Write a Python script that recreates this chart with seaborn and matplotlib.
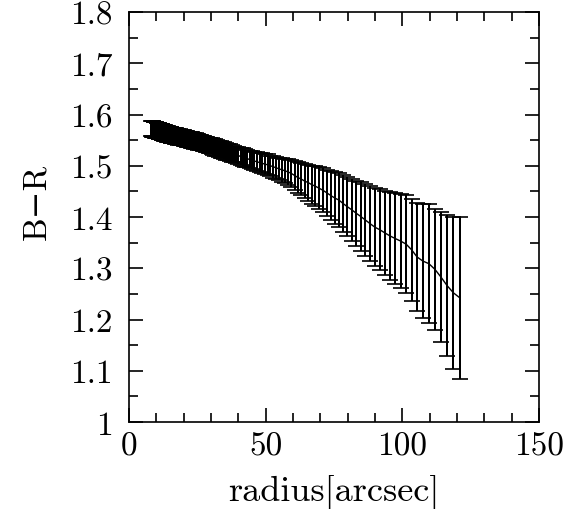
import numpy as np
import pandas as pd
import seaborn as sns
import matplotlib
matplotlib.use("Agg")
import matplotlib.pyplot as plt
from matplotlib.ticker import MultipleLocator

# ---- data (radius in arcsec, B-R colour, error) ----
radius = [8.2, 8.36, 8.53, 8.70, 8.88, 9.05, 9.24, 9.42, 9.61, 9.80,
          10.0, 10.2, 10.4, 10.6, 10.8, 11.0, 11.3, 11.5, 11.7, 12.0,
          12.2, 12.4, 12.7, 12.9, 13.2, 13.5, 13.7, 14.0, 14.3, 14.6,
          14.9, 15.2, 15.5, 15.8, 16.1, 16.4, 16.8, 17.1, 17.4, 17.8,
          18.1, 18.5, 18.9, 19.2, 19.6, 20.0, 20.4, 20.8, 21.2, 21.7,
          22.1, 22.5, 23.0, 23.4, 23.9, 24.4, 24.9, 25.4, 25.9, 26.4,
          26.9, 27.5, 28.0, 28.6, 29.1, 29.7, 30.3, 30.9, 31.5, 32.2,
          32.8, 33.5, 34.1, 34.8, 35.5, 36.2, 36.9, 37.7, 38.4, 39.2,
          40.0, 40.8, 41.6, 42.4, 43.3, 44.1, 45.0, 45.9, 46.8, 47.8,
          48.7, 49.7, 50.7, 51.7, 52.7, 53.8, 54.9, 56.0, 57.1, 58.2,
          59.4, 60.6, 61.8, 63.0, 64.3, 65.6, 66.9, 68.2, 69.6, 71.0,
          72.4, 73.8, 75.3, 76.8, 78.4, 79.9, 81.5, 83.2, 84.8, 86.5,
          88.2, 90.0, 91.8, 93.6, 95.5, 97.4, 99.4, 101.4, 103.4, 105.4,
          107.5, 109.7, 111.9, 114.1, 116.4, 118.7, 121.1]

b_minus_r = [1.573, 1.573, 1.572, 1.572, 1.572, 1.571, 1.571, 1.571, 1.570, 1.570,
             1.570, 1.569, 1.569, 1.569, 1.568, 1.568, 1.567, 1.567, 1.567, 1.566,
             1.566, 1.565, 1.565, 1.564, 1.564, 1.563, 1.563, 1.562, 1.562, 1.561,
             1.561, 1.560, 1.560, 1.559, 1.559, 1.559, 1.558, 1.558, 1.557, 1.557,
             1.556, 1.556, 1.555, 1.555, 1.555, 1.554, 1.553, 1.553, 1.552, 1.551,
             1.551, 1.550, 1.550, 1.549, 1.548, 1.548, 1.547, 1.546, 1.545, 1.545,
             1.544, 1.543, 1.542, 1.541, 1.540, 1.540, 1.538, 1.537, 1.536, 1.535,
             1.533, 1.532, 1.531, 1.530, 1.528, 1.527, 1.526, 1.524, 1.523, 1.521,
             1.520, 1.518, 1.517, 1.515, 1.514, 1.512, 1.511, 1.509, 1.508, 1.506,
             1.505, 1.503, 1.502, 1.500, 1.498, 1.496, 1.494, 1.492, 1.490, 1.488,
             1.485, 1.481, 1.477, 1.474, 1.470, 1.467, 1.463, 1.460, 1.456, 1.452,
             1.447, 1.442, 1.437, 1.433, 1.426, 1.420, 1.414, 1.407, 1.401, 1.394,
             1.387, 1.380, 1.375, 1.369, 1.363, 1.358, 1.353, 1.347, 1.336, 1.322,
             1.314, 1.309, 1.298, 1.283, 1.266, 1.252, 1.242]

error = [0.015, 0.015, 0.015, 0.015, 0.015, 0.015, 0.015, 0.015, 0.015, 0.015,
         0.015, 0.015, 0.015, 0.015, 0.015, 0.015, 0.015, 0.015, 0.015, 0.015,
         0.015, 0.015, 0.015, 0.015, 0.015, 0.015, 0.015, 0.015, 0.015, 0.015,
         0.015, 0.015, 0.015, 0.015, 0.015, 0.015, 0.015, 0.015, 0.015, 0.015,
         0.015, 0.015, 0.015, 0.015, 0.015, 0.015, 0.015, 0.015, 0.015, 0.015,
         0.015, 0.015, 0.015, 0.015, 0.015, 0.015, 0.015, 0.015, 0.015, 0.015,
         0.015, 0.015, 0.015, 0.015, 0.015, 0.015, 0.016, 0.016, 0.016, 0.016,
         0.016, 0.016, 0.016, 0.016, 0.016, 0.016, 0.016, 0.016, 0.016, 0.016,
         0.016, 0.017, 0.017, 0.017, 0.017, 0.017, 0.017, 0.018, 0.018, 0.018,
         0.019, 0.019, 0.020, 0.020, 0.021, 0.022, 0.022, 0.023, 0.024, 0.025,
         0.027, 0.028, 0.030, 0.031, 0.033, 0.035, 0.037, 0.039, 0.041, 0.043,
         0.045, 0.047, 0.050, 0.052, 0.055, 0.058, 0.061, 0.064, 0.067, 0.070,
         0.073, 0.076, 0.079, 0.082, 0.085, 0.088, 0.091, 0.095, 0.100, 0.106,
         0.111, 0.116, 0.118, 0.127, 0.137, 0.148, 0.158]

x_ticks = [0, 50, 100, 150]
y_ticks = [1.0, 1.1, 1.2, 1.3, 1.4, 1.5, 1.6, 1.7, 1.8]

df = pd.DataFrame({"radius": radius, "BR": b_minus_r, "err": error})

sns.set_theme(style="ticks")
plt.rcParams["font.family"] = ["cmr10", "DejaVu Serif"]
plt.rcParams["axes.unicode_minus"] = False
plt.rcParams["axes.formatter.use_mathtext"] = False

fig = plt.figure(figsize=(5.87, 5.10), dpi=100)
ax = fig.add_axes([129 / 587, 1 - 423 / 510, 410 / 587, 410 / 510])

_, caps, bars = ax.errorbar(df["radius"], df["BR"], yerr=df["err"], fmt="none",
                            ecolor="black", elinewidth=1.2, capsize=5.8,
                            capthick=1.2, zorder=2)
for c in caps:
    c.set_antialiased(False)
for b in bars:
    b.set_antialiased(False)
sns.lineplot(data=df, x="radius", y="BR", ax=ax, color="black",
             linewidth=1.0, sort=False, estimator=None, zorder=3)

ax.set_xlim(0, 150)
ax.set_ylim(1.0, 1.8)
ax.xaxis.set_minor_locator(MultipleLocator(10))
ax.yaxis.set_minor_locator(MultipleLocator(0.05))
ax.set_xticks(x_ticks)
ax.set_xticklabels([str(t) for t in x_ticks])
ax.set_yticks(y_ticks)
ax.set_yticklabels(["1" if t == 1.0 else f"{t:.1f}" for t in y_ticks])

for s in ax.spines.values():
    s.set_linewidth(1.2)
    s.set_color("black")

FS = 24
ax.tick_params(which="both", direction="in", top=True, right=True,
               color="black", width=1.2)
ax.tick_params(which="major", length=10)
ax.tick_params(which="minor", length=6.5)
ax.tick_params(axis="x", which="major", pad=7, labelsize=FS, labelcolor="black")
ax.tick_params(axis="y", which="major", pad=12, labelsize=FS, labelcolor="black")

ax.set_xlabel("radius[arcsec]", fontsize=FS + 2, color="black")
ax.set_ylabel("B\u2212R", fontsize=FS, color="black")
ax.xaxis.set_label_coords(0.5, -0.128)
ax.yaxis.set_label_coords(-0.19, 0.54)

fig.savefig("out.png", dpi=100, facecolor="white")
